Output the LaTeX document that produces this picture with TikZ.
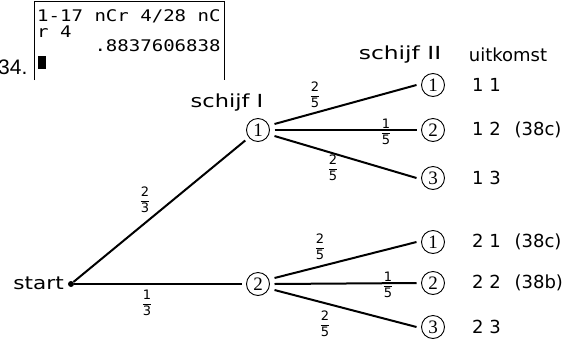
\documentclass[tikz,border=0pt]{standalone}
\usepackage{amsmath}
\usepackage{graphicx}
\usepackage{fontspec}
\setmainfont{DejaVu Sans}
\newfontfamily\calcfont{DejaVu Sans Mono}
\newfontfamily\digfont{Liberation Serif}
\newfontfamily\numfont{Liberation Sans}
\newcommand\myfrac[2]{$\dfrac{\text{#1}}{\text{#2}}$}
\newcommand\wide[2]{\scalebox{#1}[1]{#2}}
\tikzset{
  edge/.style={line width=2pt},
  circ/.style={circle, draw, line width=0.9pt, minimum size=23pt, inner sep=0pt, outer sep=5pt, font=\digfont\fontsize{19}{19}\selectfont},
  lbl/.style={font=\fontsize{18}{18}\selectfont, inner sep=0pt},
  outc/.style={anchor=west, font=\fontsize{18}{18}\selectfont, inner sep=0pt},
  fracl/.style={font=\fontsize{13}{13}\selectfont, inner sep=0pt},
  calcl/.style={anchor=base west, font=\calcfont\fontsize{16}{16}\selectfont, inner sep=0pt}
}
\begin{document}
\begin{tikzpicture}[x=1pt,y=-1pt]
\useasboundingbox (0,0) rectangle (584,338);
% calculator screen
\draw[line width=1pt] (34,80) -- (34,1) -- (224,1) -- (224,80);
\node[calcl] (c1) at (37,21) {\wide{1.19}{1-17 nCr 4/28 nC}};
\node[calcl] (c2) at (37,37) {\wide{1.19}{r 4}};
\node[calcl] (c3) at (37,51) {\wide{1.19}{\hphantom{00000}.8837606838}};
\fill (38,56) rectangle (46,69);
\node[anchor=base west, inner sep=0pt, font=\numfont\fontsize{21}{21}\selectfont] (num) at (-2,74) {34.};
% tree
\node[circle, fill, inner sep=0pt, minimum size=6pt] (st) at (71,284) {};
\node[lbl, anchor=east] (stl) at (64,283) {\wide{1.2}{start}};
\node[circ] (A1) at (258,130) {1};
\node[circ] (A2) at (258,284) {2};
\node[lbl] (sI) at (227,103) {\wide{1.25}{schijf I}};
\node[circ] (B1) at (433,85) {1};
\node[circ] (B2) at (433,130) {2};
\node[circ] (B3) at (433,178) {3};
\node[circ] (C1) at (433,242) {1};
\node[circ] (C2) at (433,283) {2};
\node[circ] (C3) at (433,327) {3};
\node[lbl] (sII) at (400,55) {\wide{1.3}{schijf II}};
\node[lbl] (uit) at (508,55) {uitkomst};
\node[outc] (o11) at (472,85) {1 1};
\node[outc] (o12) at (472,130) {1 2\hspace{0.45em} (38c)};
\node[outc] (o13) at (472,178) {1 3};
\node[outc] (o21) at (472,242) {2 1\hspace{0.45em} (38c)};
\node[outc] (o22) at (472,283) {2 2\hspace{0.45em} (38b)};
\node[outc] (o23) at (472,327) {2 3};
% edges
\draw[edge] (st) -- (A1);
\draw[edge] (st) -- (A2);
\draw[edge] ([yshift=6pt]A1.east) -- (B1.west);
\draw[edge] (A1.east) -- (B2.west);
\draw[edge] ([yshift=-6pt]A1.east) -- (B3.west);
\draw[edge] ([yshift=6pt]A2.east) -- (C1.west);
\draw[edge] (A2.east) -- (C2.west);
\draw[edge] ([yshift=-6pt]A2.east) -- (C3.west);
% probabilities
\node[fracl] (f1) at (145,200) {\myfrac{2}{3}};
\node[fracl] (f2) at (147,303) {\myfrac{1}{3}};
\node[fracl] (f3) at (315,95) {\myfrac{2}{5}};
\node[fracl] (f4) at (386,132) {\myfrac{1}{5}};
\node[fracl] (f5) at (333,168) {\myfrac{2}{5}};
\node[fracl] (f6) at (320,247) {\myfrac{2}{5}};
\node[fracl] (f7) at (388,285) {\myfrac{1}{5}};
\node[fracl] (f8) at (325,324) {\myfrac{2}{5}};
\end{tikzpicture}
\end{document}
